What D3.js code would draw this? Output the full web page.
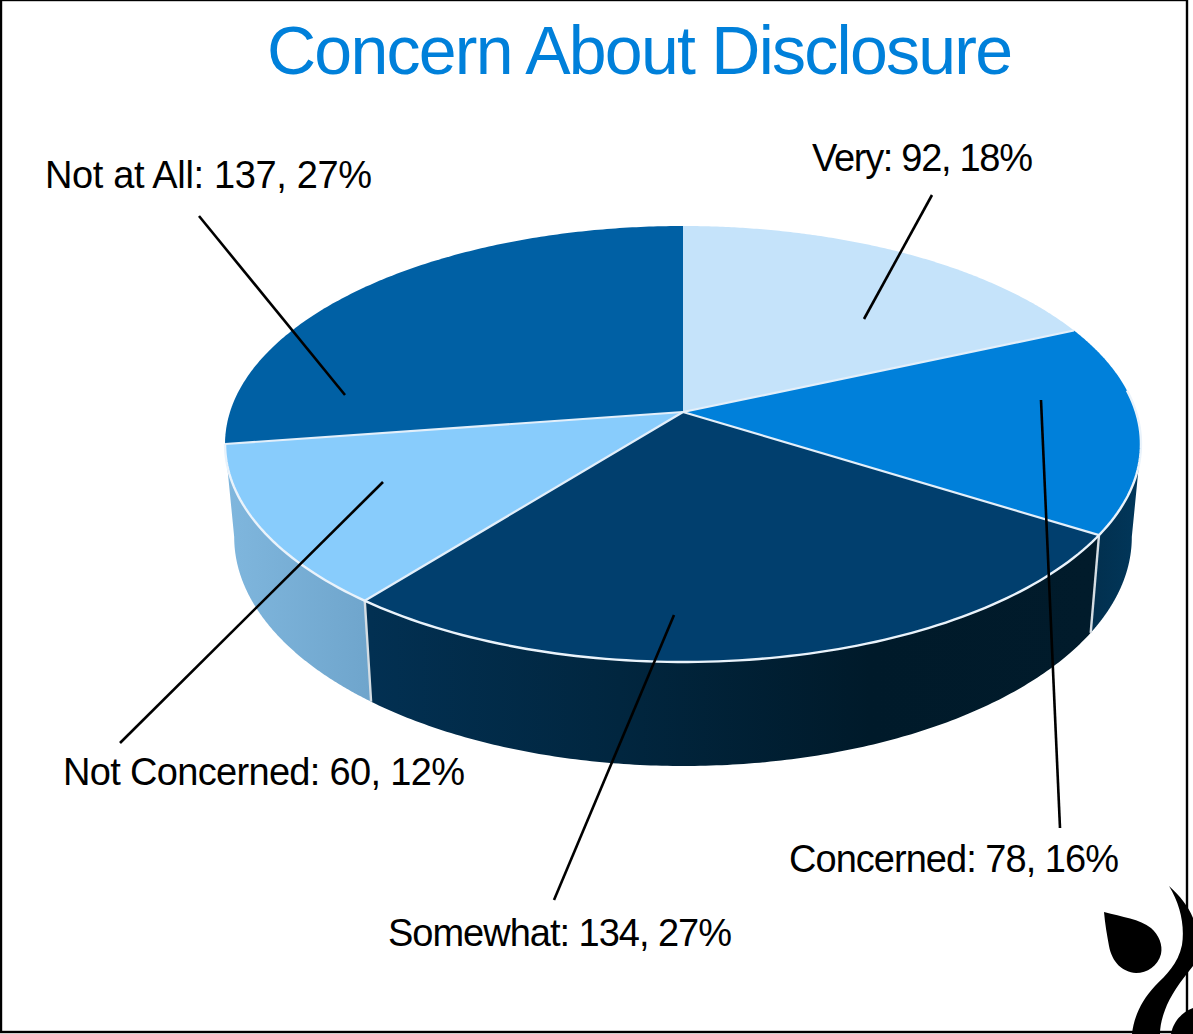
<!DOCTYPE html>
<html>
<head>
<meta charset="utf-8">
<style>
html, body { margin: 0; padding: 0; background: #fff; }
svg { display: block; }
text { font-family: "Liberation Sans", Arial, sans-serif; }
</style>
<script src="https://cdn.jsdelivr.net/npm/d3@7/dist/d3.min.js"></script>
</head>
<body>
<svg id="chart" width="1193" height="1034"></svg>
<script>
// Survey responses, clockwise from twelve o'clock
const categories = ["Very", "Concerned", "Somewhat", "Not Concerned", "Not at All"];
const counts = [92, 78, 134, 60, 137];
const topColors = ["#c5e3fa", "#0080da", "#013f6e", "#88ccfc", "#0060a4"];
const title = "Concern About Disclosure";

// Label placement: left edge and baseline, set width, then the two ends of the leader
const labelPositions = [[812, 171], [789, 872], [388, 946], [63, 785], [45, 188]];
const labelWidths = [221, 330, 344, 402, 327];
const leaderOuter = [[932, 195], [1060, 828], [554, 900], [120, 743], [199, 216]];
const leaderInner = [[864, 319], [1041, 400], [674, 615], [383, 482], [345, 395]];

// Perspective model of the disc: a unit circle tilted away from the viewer
const cx = 683, topCy = 412, bottomCy = 503.5;
const radiusX = 453, radiusY = 213.3, tilt = 0.1468;
const bottomScaleX = 0.98, bottomScaleY = 1.05;
const silhouetteRight = Math.PI - Math.acos(tilt);
const silhouetteLeft = Math.PI + Math.acos(tilt);

const project = (angle, face) => {
  const ux = Math.sin(angle), uy = -Math.cos(angle);
  const d = 1 - tilt * uy;
  const px = radiusX * ux / d, py = radiusY * uy / d;
  return face === "top"
    ? [cx + px, topCy + py]
    : [cx + px * bottomScaleX, bottomCy + py * bottomScaleY];
};

const arcPoints = (a0, a1, face) =>
  d3.range(0, 1.0001, 1 / 160).map(t => project(a0 + (a1 - a0) * t, face));

const line = d3.line();
const svg = d3.select("#chart");
const defs = svg.append("defs");

// Frame around the whole figure
svg.append("rect")
  .attr("x", 1).attr("y", 0).attr("width", 1186).attr("height", 1032)
  .attr("fill", "#fff").attr("stroke", "#000").attr("stroke-width", 2.4);

const slices = d3.pie().sort(null).value(d => d)(counts);
const total = d3.sum(counts);

// Outer wall pieces of the disc, each shaded left to right
const wallStops = [
  null,
  [[1095, "#02304f"], [1135, "#013659"]],
  [[370, "#023052"], [620, "#01263f"], [870, "#001a2a"], [1095, "#011b2b"]],
  [[230, "#7fb6dd"], [370, "#6fa5cc"]],
  null
];

slices.forEach((s, i) => {
  const a0 = Math.max(s.startAngle, silhouetteRight);
  const a1 = Math.min(s.endAngle, silhouetteLeft);
  if (!wallStops[i] || a1 <= a0) return;
  const stops = wallStops[i];
  const g = defs.append("linearGradient")
    .attr("id", "wall" + i)
    .attr("gradientUnits", "userSpaceOnUse")
    .attr("x1", stops[0][0]).attr("x2", stops[stops.length - 1][0])
    .attr("y1", 0).attr("y2", 0);
  const offset = d3.scaleLinear().domain([stops[0][0], stops[stops.length - 1][0]]).range([0, 1]);
  stops.forEach(st => g.append("stop").attr("offset", offset(st[0])).attr("stop-color", st[1]));

  const pts = arcPoints(a0, a1, "top").concat(arcPoints(a0, a1, "bottom").reverse());
  svg.append("path")
    .attr("d", line(pts) + "Z")
    .attr("fill", `url(#wall${i})`);
});

// Seams between the wall pieces
[slices[1].endAngle, slices[2].endAngle].forEach(a => {
  svg.append("path")
    .attr("d", line([project(a, "top"), project(a, "bottom")]))
    .attr("stroke", "#d5dde3").attr("stroke-width", 2.4).attr("fill", "none");
});

// Top face of the disc
svg.selectAll("path.slice")
  .data(slices)
  .join("path")
  .attr("class", "slice")
  .attr("d", (s) => line([[cx, topCy]].concat(arcPoints(s.startAngle, s.endAngle, "top"))) + "Z")
  .attr("fill", (s, i) => topColors[i])
  .attr("stroke", "none");

// Pale seams along the radial edges and the front rim
slices.slice(1).forEach(s => {
  svg.append("path")
    .attr("d", line([[cx, topCy], project(s.startAngle, "top")]))
    .attr("stroke", "#e3effa").attr("stroke-width", 2.2).attr("fill", "none");
});
svg.append("path")
  .attr("d", line(arcPoints(silhouetteRight - 0.25, silhouetteLeft, "top")))
  .attr("stroke", "#eaf3fb").attr("stroke-width", 2.4).attr("fill", "none");

// Leaders
svg.selectAll("line.leader")
  .data(categories)
  .join("line")
  .attr("class", "leader")
  .attr("x1", (d, i) => leaderOuter[i][0]).attr("y1", (d, i) => leaderOuter[i][1])
  .attr("x2", (d, i) => leaderInner[i][0]).attr("y2", (d, i) => leaderInner[i][1])
  .attr("stroke", "#000").attr("stroke-width", 2.6);

// Category labels
svg.selectAll("text.label")
  .data(categories)
  .join("text")
  .attr("class", "label")
  .attr("x", (d, i) => labelPositions[i][0])
  .attr("y", (d, i) => labelPositions[i][1])
  .attr("font-size", 38)
  .attr("textLength", (d, i) => labelWidths[i])
  .attr("lengthAdjust", "spacing")
  .attr("fill", "#000")
  .text((d, i) => `${d}: ${counts[i]}, ${Math.round(counts[i] / total * 100)}%`);

svg.append("text")
  .attr("x", 267).attr("y", 74)
  .attr("font-size", 68)
  .attr("textLength", 746)
  .attr("lengthAdjust", "spacing")
  .attr("fill", "#0080da")
  .text(title);

// Leaf-and-stem emblem in the lower right corner
const emblem = svg.append("g").attr("fill", "#000");
emblem.append("path").attr("d",
  "M1104,912 C1122,917 1140,919 1151,928 C1159,935 1163,945 1161,954 C1158,966 1147,973 1136,973 C1122,972 1112,962 1109,946 C1107,935 1105,924 1104,912Z");
emblem.append("path").attr("d",
  "M1169,886 C1180,896 1188,906 1193,918 L1193,966 C1180,982 1170,996 1165,1010 C1162,1018 1160,1026 1160,1034 L1132,1034 C1134,1016 1142,1000 1155,986 C1166,975 1178,964 1182,945 C1185,925 1180,904 1169,886Z");
emblem.append("path").attr("d",
  "M1171,1034 C1173,1022 1182,1012 1193,1008 L1193,1034Z");
</script>
</body>
</html>
